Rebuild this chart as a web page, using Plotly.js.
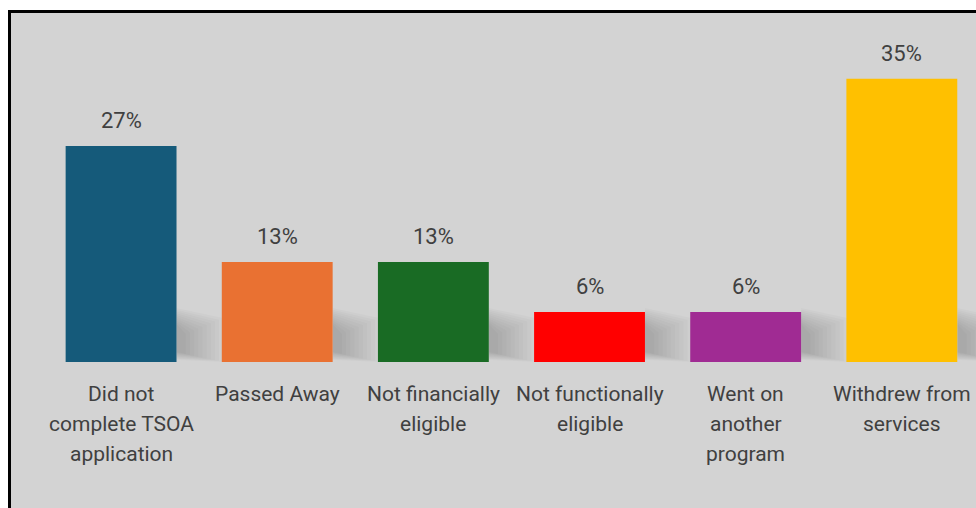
<!DOCTYPE html>
<html>
<head>
<meta charset="utf-8">
<script src="https://cdn.plot.ly/plotly-3.0.1.min.js"></script>
<style>
  html, body { margin: 0; padding: 0; background: #ffffff; width: 976px; height: 508px; overflow: hidden; }
  #frame { position: absolute; left: 8px; top: 10px; width: 968px; height: 498px; box-sizing: border-box;
           border-left: 3px solid #000; border-top: 3px solid #000; background: #d3d3d3; }
  #chart { position: absolute; left: 0; top: 0; width: 976px; height: 508px; }
</style>
</head>
<body>
<div id="frame"></div>
<div id="chart"></div>
<script>
// Data
const categories = ["Did not complete TSOA application", "Passed Away", "Not financially eligible",
                    "Not functionally eligible", "Went on another program", "Withdrew from services"];
const categoryLines = [
  ["Did not", "complete TSOA", "application"],
  ["Passed Away"],
  ["Not financially", "eligible"],
  ["Not functionally", "eligible"],
  ["Went on", "another", "program"],
  ["Withdrew from", "services"]
];
const shares = [0.27, 0.125, 0.125, 0.0625, 0.0625, 0.354];
const shareLabels = ["27%", "13%", "13%", "6%", "6%", "35%"];
const barColors = ["#155a7a", "#e97132", "#196b24", "#ff0000", "#a02b93", "#ffc000"];

const idx = categories.map((c, i) => i);
const barWidth = 0.71;

const trace = {
  type: "bar",
  x: idx,
  y: shares,
  marker: { color: barColors, line: { width: 0 } },
  width: barWidth,
  hoverinfo: "skip"
};

// soft shadow: many faint nested layers so the edges fade out
const shadowSteps = 10;
const shapes = [];
idx.forEach(i => {
  for (let s = 0; s < shadowSteps; s++) {
    const f = s / (shadowSteps - 1);          // 0 = outermost, 1 = innermost
    shapes.push({
      type: "path", layer: "below", xref: "x", yref: "y",
      ysizemode: "pixel", yanchor: 0,
      path: (function () {
        const xl = i + barWidth / 2;
        const xr = xl + 0.3 * (1 - 0.8 * f);
        const yb = 2 + 8 * f, yt = 54 - 16 * f, slant = 10;
        return "M" + xl + "," + yb + " L" + xl + "," + yt +
               " L" + xr + "," + (yt - slant) + " L" + xr + "," + (yb - 2) + " Z";
      })(),
      fillcolor: "rgba(0,0,0,0.02)", line: { width: 0 }
    });
  }
});

const annotations = [];
shares.forEach((v, i) => {
  annotations.push({
    x: i, y: v, xref: "x", yref: "y", text: shareLabels[i], showarrow: false,
    yanchor: "bottom", yshift: 11,
    font: { family: "Roboto, sans-serif", size: 22, color: "#404040" }
  });
});
categoryLines.forEach((lines, i) => {
  lines.forEach((ln, k) => {
    annotations.push({
      x: i, y: 0, xref: "x", yref: "paper", text: ln, showarrow: false,
      yanchor: "middle", yshift: -(32 + 30 * k),
      font: { family: "Roboto, sans-serif", size: 21, color: "#404040" }
    });
  });
});

const layout = {
  width: 976, height: 508,
  margin: { l: 43, r: 0, t: 12, b: 146, pad: 0 },
  paper_bgcolor: "rgba(0,0,0,0)",
  plot_bgcolor: "rgba(0,0,0,0)",
  showlegend: false,
  xaxis: { range: [-0.5, 5.475], showticklabels: false, showgrid: false, zeroline: false, showline: false, ticks: "" },
  yaxis: { range: [0, 0.4375], showticklabels: false, showgrid: false, zeroline: false, showline: false, ticks: "" },
  shapes: shapes,
  annotations: annotations
};

Plotly.newPlot("chart", [trace], layout, { staticPlot: true, displayModeBar: false });
</script>
</body>
</html>
